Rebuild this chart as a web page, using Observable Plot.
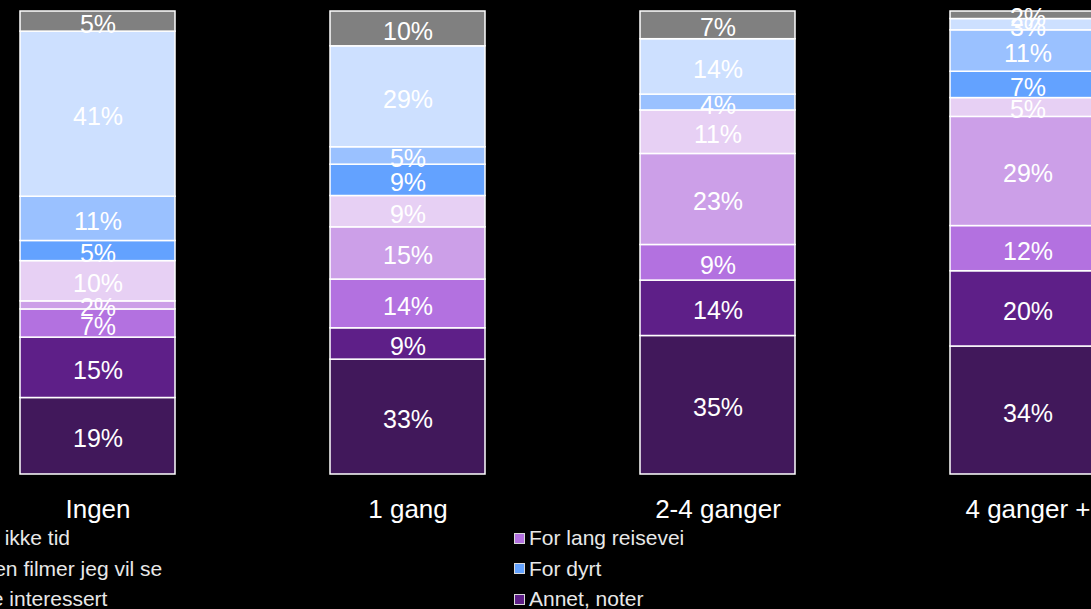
<!DOCTYPE html>
<html><head><meta charset="utf-8">
<script src="https://cdn.jsdelivr.net/npm/d3@7"></script>
<script src="https://cdn.jsdelivr.net/npm/@observablehq/plot@0.6"></script>
<style>
html,body{margin:0;padding:0;background:#000;width:1091px;height:609px;overflow:hidden;font-family:"Liberation Sans",Arial,sans-serif;}
#chart{position:absolute;left:0;top:0;}
#legend{position:absolute;left:-50px;top:523px;display:grid;grid-template-columns:564px 564px;grid-template-rows:repeat(5,30.5px);grid-auto-flow:column;color:#e8e8e8;font-size:21px;}
.item{display:flex;align-items:center;white-space:nowrap;}
.sw{width:9px;height:9px;border:1px solid #d9d9d9;margin-right:4px;flex:none;}
</style></head><body>
<div id="chart"></div><div id="legend"></div>
<script>
const categories = ["Ingen", "1 gang", "2-4 ganger", "4 ganger +"];

// series, bottom to top of the stack
const seriesNames = ["Har ikke tid", "Annet, noter", "For lang reisevei", "Ingen filmer jeg vil se",
  "Foretrekker å se film hjemme", "For dyrt", "Ingen å gå med", "Ikke interessert", "Vet ikke"];
const seriesColors = ["#41185b", "#5e1f88", "#b371e0", "#cc9fe8", "#e7d0f4", "#63a2ff", "#9ac1ff", "#cde0ff", "#808080"];

const harIkkeTid      = [19, 33, 35, 34];
const annetNoter      = [15, 9, 14, 20];
const forLangReisevei = [7, 14, 9, 12];
const ingenFilmer     = [2, 15, 23, 29];
const seHjemme        = [10, 9, 11, 5];
const forDyrt         = [5, 9, 0, 7];
const ingenAGaMed     = [11, 5, 4, 11];
const ikkeInteressert = [41, 29, 14, 3];
const vetIkke         = [5, 10, 7, 2];

const seriesValues = [harIkkeTid, annetNoter, forLangReisevei, ingenFilmer, seHjemme, forDyrt, ingenAGaMed, ikkeInteressert, vetIkke];

// legend layout (column-wise, as in the original)
const legendOrder = ["Har ikke tid", "Ingen filmer jeg vil se", "Ikke interessert", "Foretrekker å se film hjemme", "Ingen å gå med",
  "For lang reisevei", "For dyrt", "Annet, noter", "Vet ikke"];

const data = [];
seriesNames.forEach((s, i) => categories.forEach((c, j) => {
  const v = seriesValues[i][j];
  if (v > 0) data.push({category: c, series: s, value: v});
}));

const plot = Plot.plot({
  width: 1091, height: 530,
  marginTop: 11, marginBottom: 56, marginLeft: 0, marginRight: 0,
  style: {background: "transparent", fontFamily: "Liberation Sans, Arial, sans-serif", overflow: "visible"},
  x: {domain: categories, range: [20, 1107.5], paddingInner: 0.5, paddingOuter: 0, align: 0, label: null},
  y: {domain: [0, 1], axis: null},
  color: {domain: seriesNames, range: seriesColors},
  marks: [
    Plot.barY(data, Plot.stackY({offset: "normalize", order: seriesNames, x: "category", y: "value", z: "series",
      fill: "series", stroke: "white", strokeWidth: 1.5})),
    Plot.text(data, Plot.stackY({offset: "normalize", order: seriesNames, x: "category", y: "value", z: "series",
      text: d => d.value + "%", fill: "white", fontSize: 25, dy: 3})),
    Plot.axisX({tickSize: 0, tickPadding: 25, fontSize: 26, color: "white"})
  ]
});
document.getElementById("chart").appendChild(plot);

const legend = document.getElementById("legend");
legendOrder.forEach(name => {
  const item = document.createElement("div");
  item.className = "item";
  const sw = document.createElement("span");
  sw.className = "sw";
  sw.style.background = seriesColors[seriesNames.indexOf(name)];
  const t = document.createElement("span");
  t.textContent = name;
  item.appendChild(sw); item.appendChild(t);
  legend.appendChild(item);
});
</script>
</body></html>
